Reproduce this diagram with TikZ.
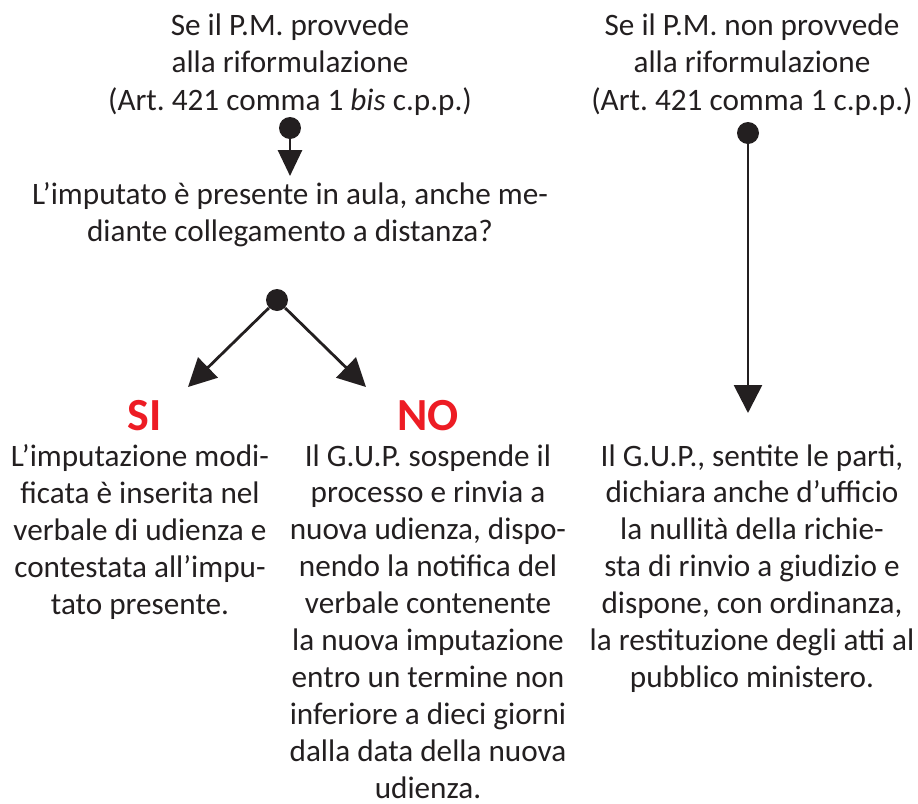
\documentclass[tikz,border=0pt]{standalone}
\usepackage{fontspec}
\setmainfont{Carlito}
\usetikzlibrary{arrows.meta}
\definecolor{sinored}{HTML}{ED1C24}
\definecolor{inkdark}{HTML}{231F20}
\frenchspacing

\begin{document}
\begin{tikzpicture}[x=0.5pt, y=-0.5pt,
        every node/.style = {text=inkdark, inner sep=0pt, align=center,
            font=\fontsize{15.6}{18.45}\selectfont},
        dot/.style = {circle, fill=inkdark, minimum size=11pt},
        freccia/.style = {draw=inkdark, line width=1.4pt, -{Triangle[length=14pt, width=14pt]}},
        esito/.style = {text=sinored, font=\fontsize{23}{23}\bfseries\selectfont}]
    \useasboundingbox (0,0) rectangle (918,804);
        % ramo di sinistra
        \node[anchor=north, font=\fontsize{15.6}{18.75}\selectfont] (prov) at (290,13)
            {Se il P.M. provvede\\alla riformulazione\\(Art. 421 comma 1 \emph{bis} c.p.p.)};
        \node[dot] (dotA) at (290,128) {};
        \node[anchor=north] (domanda) at (290,182)
            {L’imputato è presente in aula, anche me-\\diante collegamento a distanza?};
        \draw[freccia, -{Triangle[length=13pt, width=12pt]}, shorten >=3pt] (dotA) -- (domanda.north);
        \node[dot] (dotB) at (277,300) {};
        \coordinate (punta si) at (188,387);
        \coordinate (punta no) at (366,387);
        \draw[freccia] (dotB) -- (punta si);
        \draw[freccia] (dotB) -- (punta no);
        \node[esito] (si) at (145,416) {SI};
        \node[esito] (no) at (428,416) {NO};
        \node[anchor=north] (testo si) at (140,444)
            {L’imputazione modi-\\ficata è inserita nel\\verbale di udienza e\\contestata all’impu-\\tato presente.};
        \node[anchor=north] (testo no) at (428,444)
            {Il G.U.P. sospende il\\processo e rinvia a\\nuova udienza, dispo-\\nendo la notifica del\\verbale contenente\\la nuova imputazione\\entro un termine non\\inferiore a dieci giorni\\dalla data della nuova\\udienza.};
        % ramo di destra
        \node[anchor=north, font=\fontsize{15.6}{18.75}\selectfont] (nonprov) at (752,13)
            {Se il P.M. non provvede\\alla riformulazione\\(Art. 421 comma 1 c.p.p.)};
        \node[dot] (dotC) at (748,133) {};
        \coordinate (punta nullita) at (748,413);
        \draw[freccia] (dotC) -- (punta nullita);
        \node[anchor=north] (nullita) at (752,444)
            {Il G.U.P., sentite le parti,\\dichiara anche d’ufficio\\la nullità della richie-\\sta di rinvio a giudizio e\\dispone, con ordinanza,\\la restituzione degli atti al\\pubblico ministero.};
\end{tikzpicture}
\end{document}
